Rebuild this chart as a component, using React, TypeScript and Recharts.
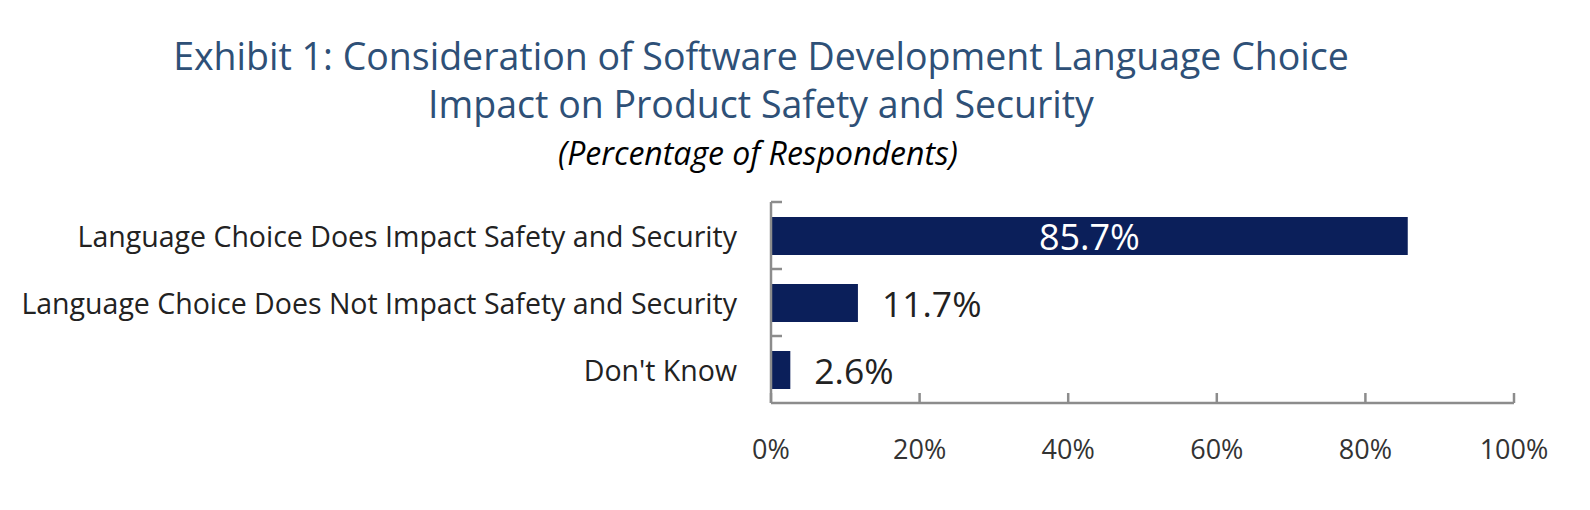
import { BarChart, Bar, XAxis, YAxis, LabelList } from 'recharts';

const categories = [
  'Language Choice Does Impact Safety and Security',
  'Language Choice Does Not Impact Safety and Security',
  "Don't Know",
];
const shares = [85.7, 11.7, 2.6];
const xTicks = [0, 20, 40, 60, 80, 100];

const data = categories.map((name, i) => ({ name, share: shares[i] }));

const FONT = '"Open Sans", "Noto Sans", sans-serif';
const AXIS = '#8c8c8c';
const BAR = '#0b1f5a';
const PLOT_H = 201;
const BAND = PLOT_H / categories.length;

function CategoryTick({ x, y, payload }: any) {
  const top = y - BAND / 2;
  return (
    <g>
      <line x1={x} x2={x + 11} y1={top} y2={top} stroke={AXIS} strokeWidth={2.5} />
      <text
        x={x - 34}
        y={y}
        textAnchor="end"
        dominantBaseline="central"
        fontSize={28.5}
        fill="#222"
        fontFamily={FONT}
      >
        {payload.value}
      </text>
    </g>
  );
}

function PercentTick({ x, y, payload }: any) {
  return (
    <g>
      <line x1={x} x2={x} y1={y} y2={y - 10} stroke={AXIS} strokeWidth={2.5} />
      <text
        x={x}
        y={y + 45}
        textAnchor="middle"
        dominantBaseline="central"
        fontSize={27}
        fill="#333"
        fontFamily={FONT}
      >
        {payload.value}%
      </text>
    </g>
  );
}

function ValueLabel(props: any) {
  const x = Number(props.x);
  const y = Number(props.y);
  const width = Number(props.width);
  const height = Number(props.height);
  const value = Number(props.value);
  const inside = value > 50;
  return (
    <text
      x={inside ? x + width / 2 : x + width + 24}
      y={y + height / 2}
      textAnchor={inside ? 'middle' : 'start'}
      dominantBaseline="central"
      fill={inside ? '#fff' : '#222'}
      fontSize={inside ? 36 : 35.5}
      fontFamily={FONT}
    >
      {value.toFixed(1)}%
    </text>
  );
}

export default function App() {
  return (
    <div style={{ position: 'relative', width: 1574, height: 494, fontFamily: FONT }}>
      <div
        style={{
          position: 'absolute',
          top: 24,
          left: 0,
          width: 1506,
          textAlign: 'center',
          color: '#2e5077',
          fontSize: 37.5,
          lineHeight: '48px',
        }}
      >
        Exhibit 1: Consideration of Software Development Language Choice
        <br />
        Impact on Product Safety and Security
      </div>
      <div
        style={{
          position: 'absolute',
          top: 125,
          left: 0,
          width: 1500,
          textAlign: 'center',
          color: '#000',
          fontSize: 32,
          fontStyle: 'italic',
          lineHeight: '40px',
        }}
      >
        (Percentage of Respondents)
      </div>
      <BarChart
        width={1574}
        height={494}
        data={data}
        layout="vertical"
        margin={{ top: 194, right: 68, bottom: 39, left: 0 }}
      >
        <XAxis
          type="number"
          domain={[0, 100]}
          ticks={xTicks}
          interval={0}
          height={60}
          tickSize={0}
          tickMargin={0}
          tickLine={false}
          axisLine={{ stroke: AXIS, strokeWidth: 2.5 }}
          tick={<PercentTick />}
        />
        <YAxis
          type="category"
          dataKey="name"
          width={763}
          tickSize={0}
          tickMargin={0}
          tickLine={false}
          axisLine={{ stroke: AXIS, strokeWidth: 2.5 }}
          tick={<CategoryTick />}
        />
        <Bar dataKey="share" fill={BAR} barSize={38} isAnimationActive={false}>
          <LabelList dataKey="share" content={<ValueLabel />} />
        </Bar>
      </BarChart>
    </div>
  );
}
